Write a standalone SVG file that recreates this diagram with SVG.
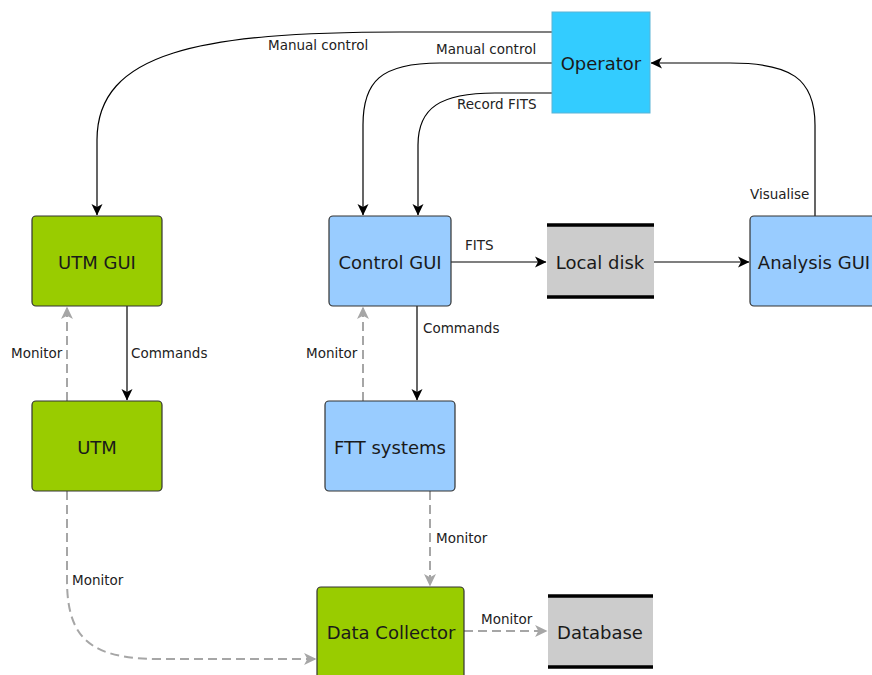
<svg xmlns="http://www.w3.org/2000/svg" width="872" height="675" viewBox="0 0 872 675">
  <defs>
    <marker id="arrowBlack" viewBox="0 0 12 12" refX="11" refY="6" markerWidth="12" markerHeight="12" markerUnits="userSpaceOnUse" orient="auto">
      <path d="M0,0.5 L11.5,6 L0,11.5 L3,6 Z" fill="#000"/>
    </marker>
    <marker id="arrowGray" viewBox="0 0 12 12" refX="11" refY="6" markerWidth="13" markerHeight="13" markerUnits="userSpaceOnUse" orient="auto">
      <path d="M0,0.5 L11.5,6 L0,11.5 L3,6 Z" fill="#a6a6a6"/>
    </marker>
  </defs>
  <style>
    .node text { font-family: "DejaVu Sans", sans-serif; font-size: 18px; fill: #1a1a1a; text-anchor: middle; dominant-baseline: central; }
    .green { fill: #99cc00; stroke: #333; stroke-width: 1.2; }
    .blue { fill: #99ccff; stroke: #333; stroke-width: 1.2; }
    .op { fill: #33ccff; stroke: #5ab4d6; stroke-width: 1; }
    .store { fill: #cccccc; }
    .bar { stroke: #000; stroke-width: 3.5; }
    .solid { fill: none; stroke: #000; stroke-width: 1.2; marker-end: url(#arrowBlack); }
    .dash { fill: none; stroke: #a6a6a6; stroke-width: 2; stroke-dasharray: 9 5; marker-end: url(#arrowGray); }
    .lbl { font-family: "DejaVu Sans", sans-serif; font-size: 13.5px; fill: #222; }
  </style>
  <rect width="872" height="675" fill="#fff"/>

  <!-- connectors -->
  <g id="connectors">
    <path class="solid" d="M552,32 L400,32 C200,32 97,52 97,140 L97,215"/>
    <path class="solid" d="M552,63 L440,63 C380,63 363,82 363,125 L363,215"/>
    <path class="solid" d="M552,93 L495,93 C440,93 418,108 418,145 L418,215"/>
    <path class="solid" d="M815,216 L815,125 C815,78 790,63 730,63 L651,63"/>
    <path class="solid" d="M451,262 L546,262"/>
    <path class="solid" d="M654,262 L749,262"/>
    <path class="solid" d="M127,306 L127,400"/>
    <path class="solid" d="M417,306 L417,400"/>
    <path class="dash" d="M67,401 L67,307"/>
    <path class="dash" d="M363,401 L363,307"/>
    <path class="dash" d="M430,491 L430,586"/>
    <path class="dash" d="M67,491 L67,580 C67,640 92,659 160,659 L316,659"/>
    <path class="dash" d="M464,631 L547,631"/>

    <text class="lbl" x="268" y="50">Manual control</text>
    <text class="lbl" x="436" y="54">Manual control</text>
    <text class="lbl" x="457" y="109">Record FITS</text>
    <text class="lbl" x="750" y="199">Visualise</text>
    <text class="lbl" x="465" y="250">FITS</text>
    <text class="lbl" x="131" y="358">Commands</text>
    <text class="lbl" x="11" y="358">Monitor</text>
    <text class="lbl" x="423" y="333">Commands</text>
    <text class="lbl" x="306" y="358">Monitor</text>
    <text class="lbl" x="436" y="543">Monitor</text>
    <text class="lbl" x="72" y="585">Monitor</text>
    <text class="lbl" x="481" y="624">Monitor</text>
  </g>

  <!-- nodes -->
  <g id="operator" class="node">
    <rect class="op" x="552" y="12" width="98" height="101"/>
    <text x="601" y="63">Operator</text>
  </g>
  <g id="utm-gui" class="node">
    <rect class="green" x="32" y="216" width="130" height="90" rx="4"/>
    <text x="97" y="262">UTM GUI</text>
  </g>
  <g id="utm" class="node">
    <rect class="green" x="32" y="401" width="130" height="90" rx="4"/>
    <text x="97" y="447">UTM</text>
  </g>
  <g id="control-gui" class="node">
    <rect class="blue" x="329" y="216" width="122" height="90" rx="4"/>
    <text x="390" y="262">Control GUI</text>
  </g>
  <g id="ftt-systems" class="node">
    <rect class="blue" x="325" y="401" width="130" height="90" rx="4"/>
    <text x="390" y="447">FTT systems</text>
  </g>
  <g id="local-disk" class="node">
    <rect class="store" x="547" y="225" width="107" height="72"/>
    <line class="bar" x1="547" y1="225" x2="654" y2="225"/>
    <line class="bar" x1="547" y1="297" x2="654" y2="297"/>
    <text x="600" y="262">Local disk</text>
  </g>
  <g id="analysis-gui" class="node">
    <rect class="blue" x="750" y="216" width="135" height="90" rx="4"/>
    <text x="814" y="262">Analysis GUI</text>
  </g>
  <g id="data-collector" class="node">
    <rect class="green" x="317" y="587" width="147" height="100" rx="4"/>
    <text x="391" y="632">Data Collector</text>
  </g>
  <g id="database" class="node">
    <rect class="store" x="548" y="596" width="105" height="71"/>
    <line class="bar" x1="548" y1="596" x2="653" y2="596"/>
    <line class="bar" x1="548" y1="667" x2="653" y2="667"/>
    <text x="600" y="632">Database</text>
  </g>
</svg>
